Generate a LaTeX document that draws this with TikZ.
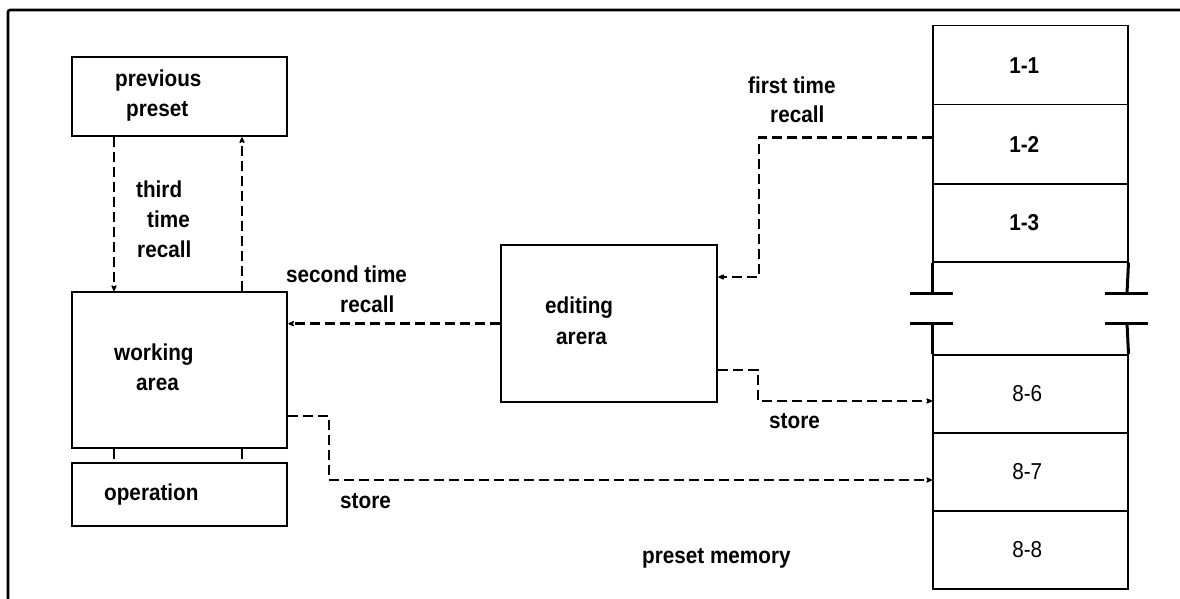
\documentclass[tikz,border=0pt]{standalone}
\usepackage{fontspec}
\setmainfont{Liberation Sans}
\newfontfamily\lblfont{Liberation Sans}[FakeStretch=0.9]
\usetikzlibrary{arrows.meta}
\begin{document}
\begin{tikzpicture}[x=1pt,y=-1pt,
  box/.style={draw,line width=2.4pt,inner sep=0pt,anchor=north west},
  cell/.style={draw,line width=1.5pt,minimum width=195pt,inner sep=0pt,anchor=north west,font=\lblfont\bfseries\fontsize{23}{26}\selectfont},
  cellr/.style={cell,font=\lblfont\fontsize{23}{26}\selectfont},
  lbl/.style={anchor=base west,inner sep=0pt,font=\lblfont\bfseries\fontsize{23}{26}\selectfont},
  link/.style={line width=2.8pt,dash pattern=on 10pt off 5pt},
  conn/.style={link,-{Stealth[length=8pt,width=7pt,round]}},
  wall/.style={line width=3pt}]
\useasboundingbox (0,0) rectangle (1180,599);
% frame
\draw[line width=2.6pt,rounded corners=2pt] (8,599) -- (8,10) -- (1180,10);
% boxes
\node[box,minimum width=215pt,minimum height=79pt] (prev) at (71,56) {};
\node[box,minimum width=215pt,minimum height=156pt] (work) at (71,291) {};
\node[box,minimum width=215pt,minimum height=63pt] (op) at (71,462) {};
\node[box,minimum width=216pt,minimum height=157pt] (edit) at (500,244) {};
% memory cells
\node[cell,minimum height=79pt] (c11) at (932,25) {\hspace*{-12pt}1-1};
\node[cell,minimum height=79pt] (c12) at (932,104) {\hspace*{-12pt}1-2};
\node[cell,minimum height=78pt] (c13) at (932,183) {\hspace*{-12pt}1-3};
\node[cellr,minimum height=78pt] (c86) at (932,354) {\hspace*{-6pt}8-6};
\node[cellr,minimum height=78pt] (c87) at (932,432) {\hspace*{-6pt}8-7};
\node[cellr,minimum height=78pt] (c88) at (932,510) {\hspace*{-6pt}8-8};
% broken wall
\draw[wall] (c13.south west) -- (932,293);
\draw[wall] (c13.south east) -- (1127,293);
\draw[wall] (910,293) -- (953,293);
\draw[wall] (1105,293) -- (1148,293);
\draw[wall] (910,323) -- (953,323);
\draw[wall] (1105,323) -- (1148,323);
\draw[wall] (932,323) -- (c86.north west);
\draw[wall] (1127,323) -- (c86.north east);
% texts
\node[lbl] (tprev1) at (115,87) {previous};
\node[lbl] (tprev2) at (126,117) {preset};
\node[lbl] (tthird1) at (136,197) {third};
\node[lbl] (tthird2) at (147,227) {time};
\node[lbl] (tthird3) at (137,257) {recall};
\node[lbl] (tsec1) at (286,282) {second time};
\node[lbl] (tsec2) at (340,312) {recall};
\node[lbl] (twork1) at (114,360) {working};
\node[lbl] (twork2) at (136,390) {area};
\node[lbl] (top) at (104,500) {operation};
\node[lbl] (tstore2) at (340,508) {store};
\node[lbl] (tedit1) at (545,313) {editing};
\node[lbl] (tedit2) at (556,344) {arera};
\node[lbl] (tstore1) at (769,428) {store};
\node[lbl] (tmem) at (642,563) {preset memory};
\node[lbl] (tfirst1) at (748,94) {first time};
\node[lbl] (tfirst2) at (770,123) {recall};
% connectors
\draw[conn] ([xshift=43pt]prev.south west) -- ([xshift=43pt]work.north west);
\draw[conn] ([xshift=171pt]work.north west) -- ([xshift=171pt]prev.south west);
\draw[link] ([xshift=43pt]work.south west) -- ([xshift=43pt]op.north west);
\draw[link] ([xshift=171pt]work.south west) -- ([xshift=171pt]op.north west);
\draw[conn] (edit.west) -- (edit.west -| work.east);
\coordinate (f2) at (759,277);
\draw[conn] ([yshift=7pt]c12.west) -| (f2) -- (f2 -| edit.east);
\coordinate (s1a) at (758,370);
\coordinate (s1b) at (758,401);
\draw[conn] (edit.east |- s1a) -- (s1a) -- (s1b) -- (s1b -| c86.west);
\coordinate (s2a) at (329,416);
\coordinate (s2b) at (329,480);
\draw[conn] (work.east |- s2a) -- (s2a) -- (s2b) -- (s2b -| c87.west);
\end{tikzpicture}
\end{document}
